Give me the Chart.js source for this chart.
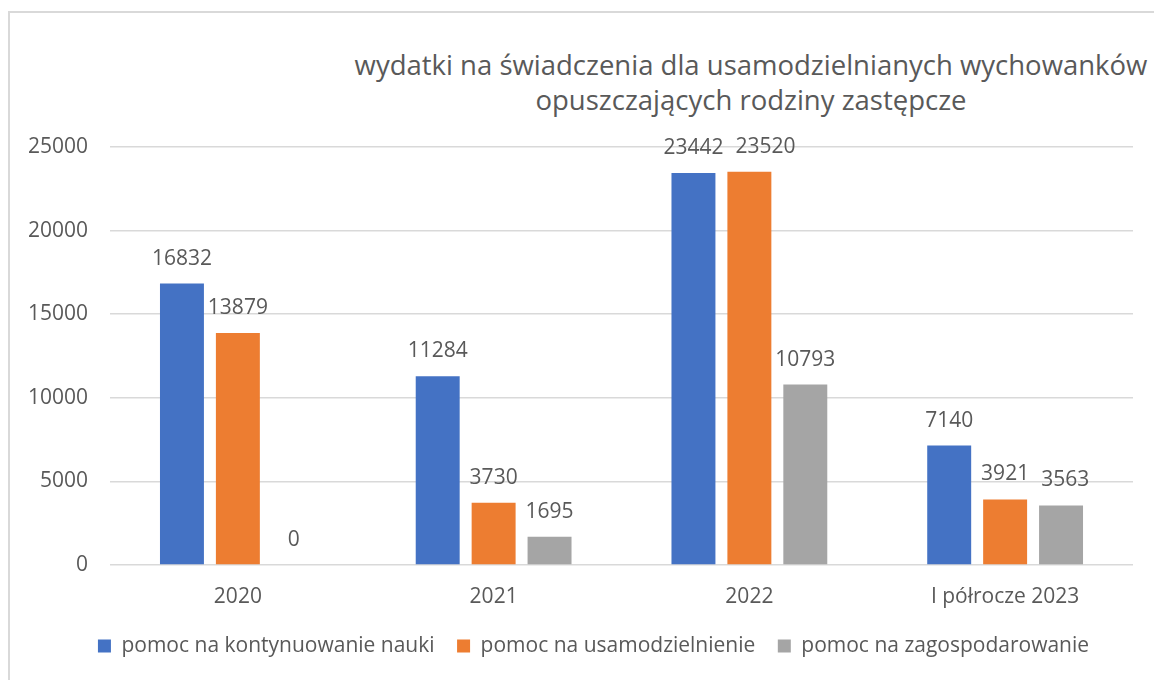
<!DOCTYPE html>
<html lang="pl">
<head>
    <meta charset="UTF-8">
    <title>wydatki na świadczenia</title>
    <style>
        body {
            margin: 0;
            overflow: hidden;
            background: #fff;
            font-family: "Open Sans", sans-serif;
        }
        #wrap {
            position: relative;
            width: 1154px;
            height: 680px;
        }
        #frame {
            position: absolute;
            left: 8px;
            top: 11px;
            width: 1400px;
            height: 800px;
            border-left: 2px solid #d9d9d9;
            border-top: 2px solid #d9d9d9;
        }
        #title {
            position: absolute;
            left: 0;
            top: 47px;
            width: 1502px;
            text-align: center;
            white-space: nowrap;
            color: #595959;
            font-size: 27.5px;
            line-height: 35px;
        }
        #chart {
            position: absolute;
            left: 0;
            top: 0;
        }
    </style>
</head>
<body>
    <div id="wrap">
        <div id="frame"></div>
        <div id="title">wydatki na świadczenia dla usamodzielnianych wychowanków<br>opuszczających rodziny zastępcze</div>
        <canvas id="chart" width="1154" height="680"></canvas>
    </div>

    <script src="https://cdn.jsdelivr.net/npm/chart.js@4/dist/chart.umd.min.js"></script>
    <script>

    const categories = ["2020", "2021", "2022", "I półrocze 2023"];
    const seriesNames = ["pomoc na kontynuowanie nauki", "pomoc na usamodzielnienie", "pomoc na zagospodarowanie"];
    const nauka = [16832, 11284, 23442, 7140];
    const usamodzielnienie = [13879, 3730, 23520, 3921];
    const zagospodarowanie = [0, 1695, 10793, 3563];
    const yTicks = [0, 5000, 10000, 15000, 20000, 25000];

    const colors = ["#4472c4", "#ed7d31", "#a5a5a5"];
    const textColor = "#595959";
    const fontFamily = "'Open Sans', sans-serif";

    // values above the bars; a label that would collide with its left neighbour is pushed right
    const valueLabels = {
        id: "valueLabels",
        afterDatasetsDraw(chart) {
            const ctx = chart.ctx;
            ctx.save();
            ctx.font = "21px " + fontFamily;
            ctx.fillStyle = textColor;
            ctx.textAlign = "center";
            ctx.textBaseline = "middle";
            const n = chart.data.labels.length;
            for (let j = 0; j < n; j++) {
                let prev = null;
                chart.data.datasets.forEach((ds, i) => {
                    const bar = chart.getDatasetMeta(i).data[j];
                    const text = String(ds.data[j]);
                    const w = ctx.measureText(text).width;
                    let x = bar.x;
                    const y = bar.y - 25;
                    if (prev && Math.abs(prev.y - y) < 22 && x - w / 2 < prev.right + 12) {
                        x = prev.right + 12 + w / 2;
                    }
                    ctx.fillText(text, x, y);
                    prev = { right: x + w / 2, y: y };
                });
            }
            ctx.restore();
        }
    };

    // the legend sits a bit right of the canvas centre in the original
    const legendShift = {
        id: "legendShift",
        afterLayout(chart) {
            chart.legend.left += 27;
            chart.legend.right += 27;
        }
    };

    const ctx = document.getElementById("chart").getContext("2d");
    new Chart(ctx, {
        type: "bar",
        data: {
            labels: categories,
            datasets: [nauka, usamodzielnienie, zagospodarowanie].map((d, i) => ({
                label: seriesNames[i],
                data: d,
                backgroundColor: colors[i],
                categoryPercentage: 0.656,
                barPercentage: 0.786
            }))
        },
        options: {
            responsive: false,
            animation: false,
            layout: {
                padding: { top: 147, right: 21, bottom: 13.5, left: 0 }
            },
            scales: {
                x: {
                    grid: { display: false, drawTicks: false },
                    border: { display: false },
                    ticks: {
                        color: textColor,
                        font: { family: fontFamily, size: 21 },
                        padding: 19
                    },
                    afterFit(scale) { scale.height = 48; }
                },
                y: {
                    min: yTicks[0],
                    max: yTicks[yTicks.length - 1],
                    afterBuildTicks(scale) {
                        scale.ticks = yTicks.map(v => ({ value: v }));
                    },
                    grid: { color: "#d9d9d9", lineWidth: 1.5, drawTicks: false },
                    border: { display: false },
                    ticks: {
                        color: textColor,
                        font: { family: fontFamily, size: 21 },
                        padding: 22,
                        callback: v => String(v)
                    },
                    afterFit(scale) { scale.width = 110; }
                }
            },
            plugins: {
                title: { display: false },
                tooltip: { enabled: false },
                legend: {
                    position: "bottom",
                    labels: {
                        color: textColor,
                        font: { family: fontFamily, size: 21 },
                        boxWidth: 13,
                        boxHeight: 13,
                        padding: 22.5
                    }
                }
            }
        },
        plugins: [valueLabels, legendShift]
    });

    </script>
</body>
</html>
